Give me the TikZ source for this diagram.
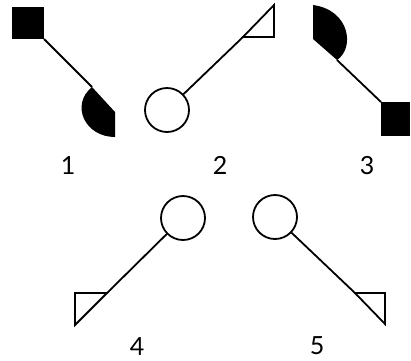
\documentclass[tikz,border=0pt]{standalone}
\usepackage{fontspec}
\setmainfont{Lato}
\usepackage{tikz}
\usetikzlibrary{positioning}

\begin{document}
\begin{tikzpicture}[x=1pt, y=-1pt,
    stem/.style={black, line width=1.8pt},
    flag/.style={black, line width=1.8pt, line join=miter},
    head/.style={circle, draw=black, line width=1.8pt, inner sep=0pt, minimum size=44pt},
    numlabel/.style={font=\fontsize{25}{25}\selectfont}]
    \useasboundingbox (0,0) rectangle (411,360);

    % 1: cuadrado lleno arriba, semicirculo lleno abajo
    \fill[black] (12,7) rectangle (44,39);
    \coordinate (cornerA) at (44,39);
    \coordinate (tipA) at (92,87);
    \draw[stem] (cornerA) -- (tipA);
    \fill[black] (tipA) -- (115,112) -- (115,137) .. controls (85,137) and (70,105) .. (tipA);
    \node[numlabel] (lblA) at (68,166) {1};

    % 2: circulo abajo, banderin arriba
    \node[head] (headB) at (167,110) {};
    \coordinate (tipB) at (243,37);
    \draw[stem] (headB) -- (tipB);
    \draw[flag] (tipB) -- (274,37) -- (274,5) -- cycle;
    \node[numlabel] (lblB) at (220,165) {2};

    % 3: semicirculo lleno arriba, cuadrado lleno abajo
    \coordinate (tipC) at (337,60);
    \fill[black] (313,5) -- (313,39) -- (tipC) .. controls (355,48) and (350,10) .. (313,5);
    \coordinate (cornerC) at (381,102);
    \draw[stem] (tipC) -- (cornerC);
    \fill[black] (cornerC) rectangle (410,136);
    \node[numlabel] (lblC) at (367,166) {3};

    % 4: circulo arriba, banderin abajo a la izquierda
    \node[head] (headD) at (183,218) {};
    \coordinate (tipD) at (107,293);
    \draw[stem] (headD) -- (tipD);
    \draw[flag] (tipD) -- (75,293) -- (75,325) -- cycle;
    \node[numlabel] (lblD) at (137,347) {4};

    % 5: circulo arriba, banderin abajo a la derecha
    \node[head] (headE) at (275,217) {};
    \coordinate (tipE) at (355,293);
    \draw[stem] (headE) -- (tipE);
    \draw[flag] (tipE) -- (385,293) -- (385,324) -- cycle;
    \node[numlabel] (lblE) at (317,346) {5};
\end{tikzpicture}
\end{document}
